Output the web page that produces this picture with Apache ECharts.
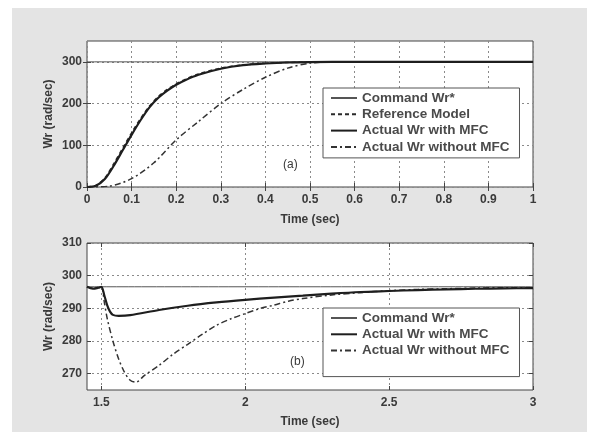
<!DOCTYPE html>
<html><head><meta charset="utf-8">
<script src="https://cdn.jsdelivr.net/npm/echarts@6/dist/echarts.min.js"></script>
<style>html,body{margin:0;padding:0;background:#fff}#c{width:591px;height:432px}</style>
</head><body><div id="c"></div>
<script>
// ---- Panel (a): step response ----
const tCmdA = [0, 1];
const cmdA = [300, 300];
const tA = [0, 0.02, 0.04, 0.06, 0.08, 0.1, 0.12, 0.14, 0.16, 0.18, 0.2, 0.22, 0.25, 0.3, 0.35, 0.4, 0.45, 0.5, 0.6, 0.8, 1];
const refModelA = [0, 4, 22, 56, 93, 130, 164, 194, 217, 234, 247, 258, 271, 285, 292.5, 296.5, 298.5, 299.5, 300, 300, 300];
const withMfcA = [0, 3, 19, 51, 88, 125, 160, 191, 214, 231, 245, 256, 269, 283.5, 292, 296, 298.5, 299.5, 300, 300, 300];
const tNoA = [0, 0.05, 0.1, 0.15, 0.2, 0.25, 0.3, 0.35, 0.4, 0.45, 0.5, 0.55, 0.6, 0.8, 1];
const noMfcA = [0, 2, 20, 58, 113, 157, 200, 234, 263, 285, 297, 300, 300, 300, 300];
const xTicksA = [0, 0.1, 0.2, 0.3, 0.4, 0.5, 0.6, 0.7, 0.8, 0.9, 1];
const yTicksA = [0, 100, 200, 300];

// ---- Panel (b): load disturbance ----
const tCmdB = [1.45, 3];
const cmdB = [296.6, 296.6];
const tWithB = [1.45, 1.47, 1.49, 1.5, 1.51, 1.52, 1.53, 1.54, 1.56, 1.6, 1.7, 1.8, 1.9, 2.0, 2.1, 2.2, 2.3, 2.4, 2.5, 2.6, 2.7, 2.8, 2.9, 3.0];
const withMfcB = [296.6, 296.0, 296.3, 296.6, 294, 291, 289, 288, 287.7, 287.9, 289.5, 290.8, 291.8, 292.6, 293.3, 293.9, 294.5, 295, 295.3, 295.6, 295.8, 296, 296.1, 296.2];
const tNoB = [1.45, 1.47, 1.49, 1.5, 1.51, 1.52, 1.54, 1.56, 1.58, 1.6, 1.62, 1.65, 1.7, 1.75, 1.8, 1.85, 1.9, 1.95, 2.0, 2.05, 2.1, 2.15, 2.2, 2.3, 2.4, 2.5, 2.6, 2.7, 2.8, 2.9, 3.0];
const noMfcB = [296.6, 296.2, 296.4, 296.6, 292, 287, 280, 274.5, 270.5, 268, 267.4, 269.5, 272.5, 276, 279, 282, 284.8, 286.8, 288.4, 289.9, 291, 292.2, 293, 294.1, 294.8, 295.4, 295.8, 296, 296.2, 296.3, 296.3];
const xTicksB = [1.5, 2, 2.5, 3];
const yTicksB = [270, 280, 290, 300, 310];

const names = ['Command Wr*', 'Reference Model', 'Actual Wr with MFC', 'Actual Wr without MFC'];
const zip = (t, v) => t.map((x, i) => [x, v[i]]);

const FONT = 'Liberation Sans';
const TXT = '#3a3a3a';
const AX = '#444';
const gridLine = { show: true, lineStyle: { color: '#8a8a8a', type: [2, 3], width: 1 } };

function mainX(gi, min, max, ticks, nameGap) {
  return {
    type: 'value', gridIndex: gi, min: min, max: max,
    name: 'Time (sec)', nameLocation: 'middle', nameGap: nameGap, nameMoveOverlap: false,
    nameTextStyle: { fontFamily: FONT, fontWeight: 'bold', fontSize: 12, color: TXT },
    axisLine: { show: false },
    axisTick: { show: true, inside: true, length: 4, lineStyle: { color: AX }, customValues: ticks },
    axisLabel: { customValues: ticks, margin: 7, fontFamily: FONT, fontWeight: 'bold', fontSize: 12, color: TXT,
      formatter: v => String(Math.round(v * 100) / 100) },
    splitLine: gridLine
  };
}
function topX(gi, min, max, ticks) {
  return {
    type: 'value', gridIndex: gi, min: min, max: max, position: 'top',
    axisLine: { show: false },
    axisTick: { show: true, inside: true, length: 4, lineStyle: { color: AX }, customValues: ticks },
    axisLabel: { show: false, customValues: ticks }, splitLine: { show: false }
  };
}
function mainY(gi, min, max, ticks) {
  return {
    type: 'value', gridIndex: gi, min: min, max: max,
    name: 'Wr (rad/sec)', nameLocation: 'middle', nameGap: 32, nameMoveOverlap: false,
    nameTextStyle: { fontFamily: FONT, fontWeight: 'bold', fontSize: 12, color: TXT },
    axisLine: { show: false },
    axisTick: { show: true, inside: true, length: 4, lineStyle: { color: AX }, customValues: ticks },
    axisLabel: { customValues: ticks, margin: 5, fontFamily: FONT, fontWeight: 'bold', fontSize: 12, color: TXT },
    splitLine: gridLine
  };
}
function rightY(gi, min, max, ticks) {
  return {
    type: 'value', gridIndex: gi, min: min, max: max, position: 'right',
    axisLine: { show: false },
    axisTick: { show: true, inside: true, length: 4, lineStyle: { color: AX }, customValues: ticks },
    axisLabel: { show: false, customValues: ticks }, splitLine: { show: false }
  };
}

const styleCmd = { color: '#555', width: 1, type: 'solid' };
const styleRef = { color: '#2a2a2a', width: 1.5, type: [4, 3] };
const styleWith = { color: '#1e1e1e', width: 2.2, type: 'solid' };
const styleNo = { color: '#333', width: 1.5, type: [6, 3, 2, 3] };

function ser(name, data, xi, yi, ls, z) {
  return { type: 'line', name: name, data: data, xAxisIndex: xi, yAxisIndex: yi,
    showSymbol: false, symbol: 'none', smooth: 0.3, lineStyle: ls, itemStyle: { color: ls.color },
    silent: true, animation: false, z: z };
}

const legendText = { fontFamily: FONT, fontWeight: 'bold', fontSize: 13.5, color: '#4a4a4a', lineHeight: 14 };
const legendCommon = { orient: 'vertical', left: 323, itemWidth: 26, itemHeight: 12, itemGap: 2.3,
  backgroundColor: '#fff', borderColor: '#555', borderWidth: 1, textStyle: legendText, selectedMode: false,
  itemStyle: { opacity: 0, borderWidth: 0 } };

const option = {
  backgroundColor: '#fff',
  animation: false,
  graphic: [
    { type: 'rect', shape: { x: 12, y: 8, width: 575, height: 424 }, style: { fill: '#e4e4e4' }, z: -10, silent: true },
    { type: 'text', left: 283, top: 159, style: { text: '(a)', font: '12px "Liberation Sans"', fill: '#3a3a3a' }, z: 100 },
    { type: 'text', left: 290, top: 356, style: { text: '(b)', font: '12px "Liberation Sans"', fill: '#3a3a3a' }, z: 100 }
  ],
  grid: [
    { left: 87, top: 41, width: 446, height: 146, show: true, backgroundColor: '#fff', borderColor: AX, borderWidth: 1 },
    { left: 87, top: 243, width: 446, height: 147, show: true, backgroundColor: '#fff', borderColor: AX, borderWidth: 1 }
  ],
  xAxis: [
    mainX(0, 0, 1, xTicksA, 27), topX(0, 0, 1, xTicksA),
    mainX(1, 1.45, 3, xTicksB, 26), topX(1, 1.45, 3, xTicksB)
  ],
  yAxis: [
    mainY(0, 0, 350, yTicksA), rightY(0, 0, 350, yTicksA),
    mainY(1, 265, 310, yTicksB), rightY(1, 265, 310, yTicksB)
  ],
  legend: [
    Object.assign({ data: names, top: 88, padding: [3, 10, 4, 7] }, legendCommon),
    Object.assign({ data: [names[0], names[2], names[3]], top: 308, padding: [3, 10, 19, 7] }, legendCommon)
  ],
  series: [
    ser(names[0], zip(tCmdA, cmdA), 0, 0, styleCmd, 2),
    ser(names[1], zip(tA, refModelA), 0, 0, styleRef, 3),
    ser(names[2], zip(tA, withMfcA), 0, 0, styleWith, 4),
    ser(names[3], zip(tNoA, noMfcA), 0, 0, styleNo, 3),
    ser(names[0], zip(tCmdB, cmdB), 2, 2, styleCmd, 2),
    ser(names[2], zip(tWithB, withMfcB), 2, 2, styleWith, 4),
    ser(names[3], zip(tNoB, noMfcB), 2, 2, styleNo, 3)
  ]
};
const chart = echarts.init(document.getElementById('c'), null, { renderer: 'canvas' });
chart.setOption(option);
</script></body></html>
